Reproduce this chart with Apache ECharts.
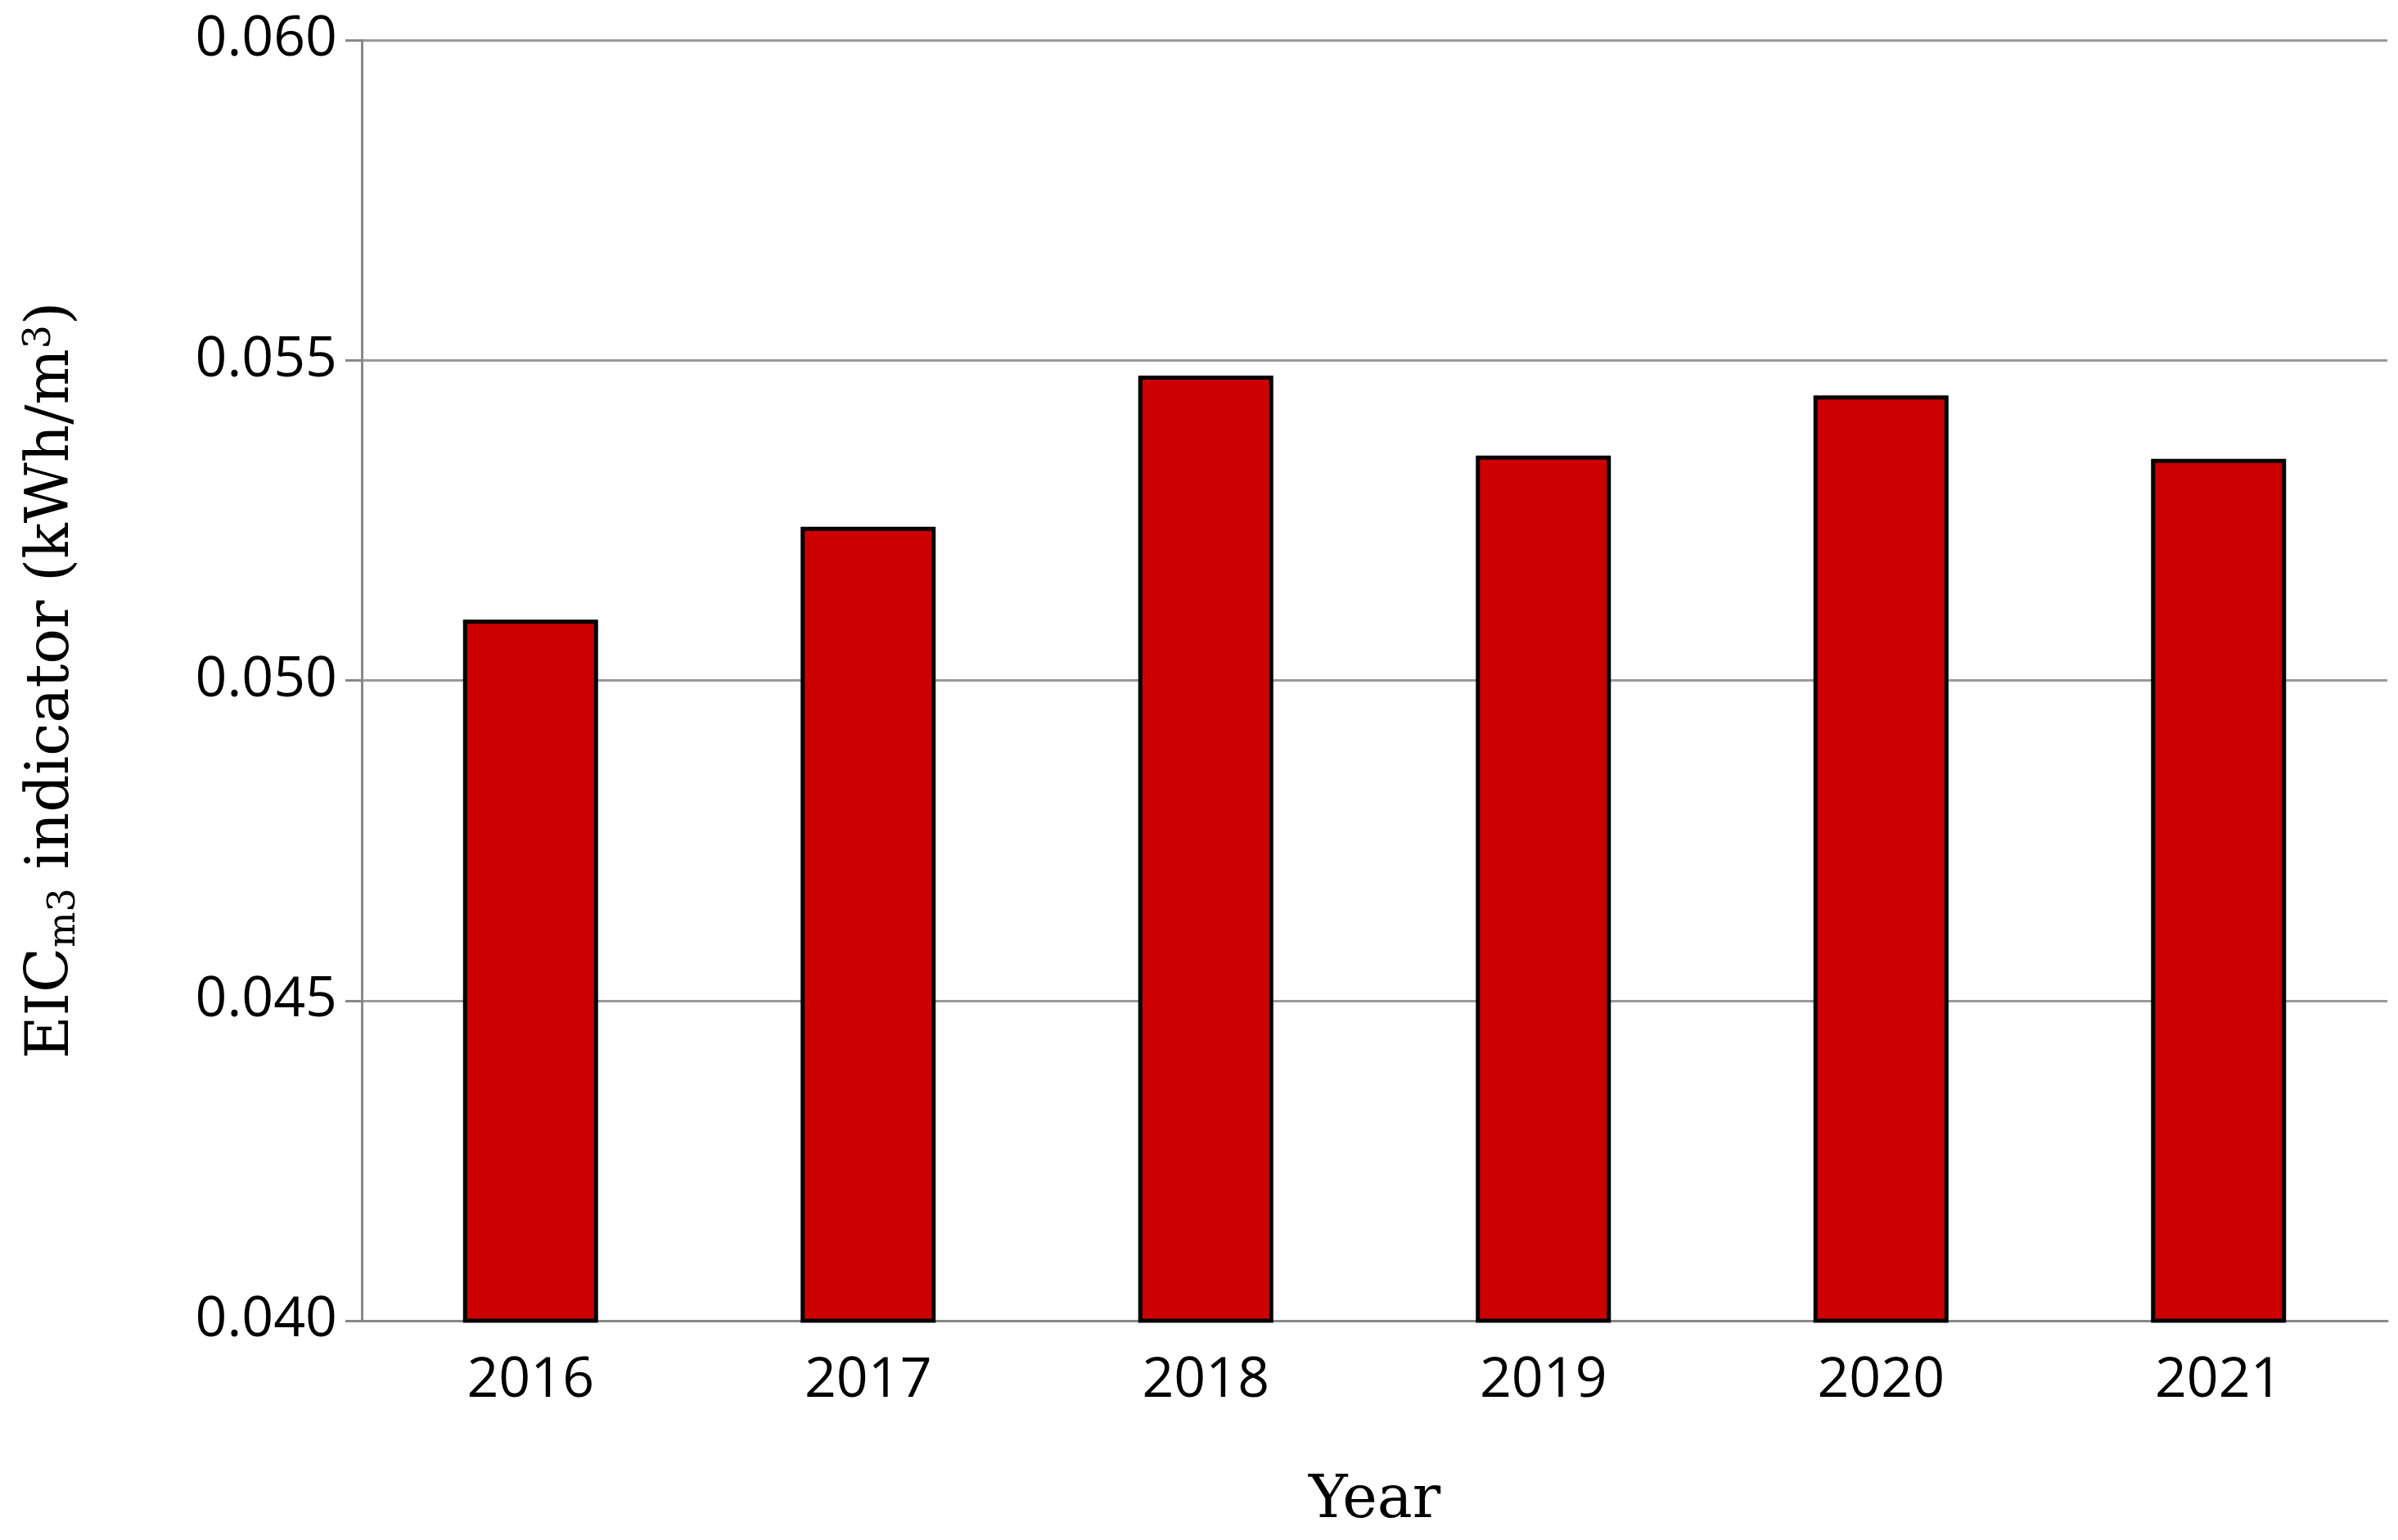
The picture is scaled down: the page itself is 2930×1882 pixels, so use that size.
<!DOCTYPE html>
<html>
<head>
<meta charset="utf-8">
<script src="https://cdn.jsdelivr.net/npm/echarts@6/dist/echarts.min.js"></script>
<style>html,body{margin:0;padding:0;background:#fff}#chart{width:2930px;height:1882px}</style>
</head>
<body>
<div id="chart"></div>
<script>
// 数据
var years = ['2016', '2017', '2018', '2019', '2020', '2021'];
var eicValues = [0.05095, 0.0524, 0.05476, 0.05351, 0.05445, 0.05346];

(function () {
  var myChart = echarts.init(document.getElementById('chart'));
  var option = {
    animation: false,
    grid: { left: 442, right: 13, top: 49, bottom: 268 },
    xAxis: {
      type: 'category',
      data: years,
      name: 'Year',
      nameLocation: 'middle',
      nameGap: 185,
      nameTextStyle: { fontFamily: 'DejaVu Serif', fontSize: 72, color: '#000' },
      axisLine: { lineStyle: { color: '#888', width: 3 } },
      axisTick: { length: 20, lineStyle: { color: '#888', width: 3 } },
      axisLabel: { color: '#000', fontSize: 68, fontFamily: 'Open Sans', margin: 40 }
    },
    yAxis: {
      type: 'value',
      min: 0.04,
      max: 0.06,
      interval: 0.005,
      name: 'EIC{sub|m3} indicator (kWh/m{sup|3})',
      nameLocation: 'middle',
      nameGap: 340,
      nameTextStyle: {
        fontFamily: 'DejaVu Serif', fontSize: 72, color: '#000',
        rich: {
          sub: { fontFamily: 'DejaVu Serif', fontSize: 46, verticalAlign: 'bottom', padding: [30, 0, 0, 0] },
          sup: { fontFamily: 'DejaVu Serif', fontSize: 46, verticalAlign: 'top', padding: [0, 0, 30, 0] }
        }
      },
      axisLine: { show: true, lineStyle: { color: '#888', width: 3 } },
      axisTick: { show: true, length: 20, lineStyle: { color: '#888', width: 3 } },
      axisLabel: {
        color: '#000', fontSize: 68, fontFamily: 'Open Sans', margin: 30,
        formatter: function (v) { return v.toFixed(3); }
      },
      splitLine: { lineStyle: { color: '#999', width: 3 } }
    },
    series: [{
      type: 'bar',
      data: eicValues,
      barWidth: '40%',
      itemStyle: { color: '#cc0000', borderColor: '#000', borderWidth: 5 }
    }]
  };
  myChart.setOption(option);
})();
</script>
</body>
</html>
